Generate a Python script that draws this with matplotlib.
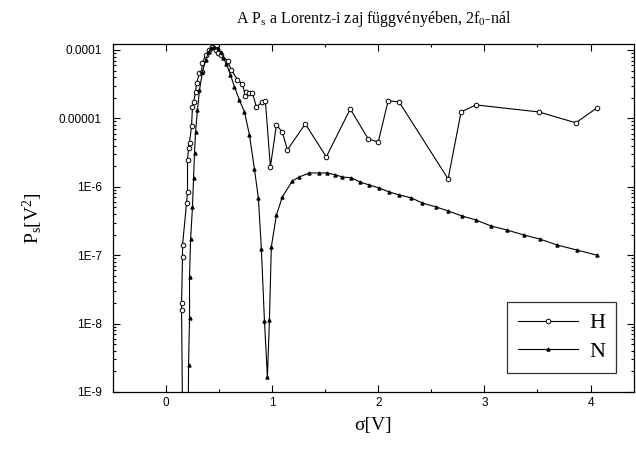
import matplotlib
matplotlib.use('Agg')
import matplotlib.pyplot as plt
from matplotlib.ticker import FixedLocator, LogLocator, NullFormatter, MultipleLocator
import numpy as np

plt.rcParams['mathtext.fontset'] = 'custom'
plt.rcParams['mathtext.rm'] = 'Liberation Serif'
plt.rcParams['mathtext.it'] = 'Liberation Serif:italic'

# H series (open circles)
h_x = [0.155, 0.146, 0.146, 0.155, 0.155, 0.193, 0.202, 0.202, 0.212, 0.221, 0.24,
       0.249, 0.259, 0.278, 0.287, 0.315, 0.334, 0.343, 0.372, 0.409, 0.437, 0.466,
       0.494, 0.522, 0.579, 0.616, 0.673, 0.72, 0.748, 0.757, 0.786, 0.814, 0.851,
       0.908, 0.936, 0.983, 1.04, 1.096, 1.143, 1.312, 1.51, 1.736, 1.905, 1.999,
       2.093, 2.196, 2.658, 2.78, 2.92, 3.513, 3.862, 4.06]
h_y = [5e-10, 1.6e-8, 2.0e-8, 9.4e-8, 1.4e-7, 5.8e-7, 8.4e-7, 2.5e-6, 3.7e-6, 4.4e-6, 7.8e-6,
       1.47e-5, 1.74e-5, 2.4e-5, 3.3e-5, 4.6e-5, 4.8e-5, 6.45e-5, 8.5e-5, 1.0e-4, 1.1e-4, 1.0e-4,
       9.0e-5, 8.5e-5, 6.9e-5, 5.1e-5, 3.65e-5, 3.2e-5, 2.1e-5, 2.4e-5, 2.35e-5, 2.35e-5, 1.47e-5,
       1.74e-5, 1.8e-5, 1.95e-6, 8.0e-6, 6.3e-6, 3.45e-6, 8.3e-6, 2.73e-6, 1.37e-5, 5.0e-6, 4.5e-6,
       1.8e-5, 1.74e-5, 1.3e-6, 1.24e-5, 1.57e-5, 1.24e-5, 8.6e-6, 1.42e-5]

# N series (filled triangles)
n_x = [0.209, 0.212, 0.221, 0.221, 0.231, 0.249, 0.259, 0.268, 0.278, 0.296, 0.315,
       0.343, 0.372, 0.40, 0.428, 0.456, 0.485, 0.513, 0.541, 0.569, 0.607, 0.644,
       0.691, 0.739, 0.786, 0.833, 0.87, 0.898, 0.927, 0.955, 0.974, 0.992, 1.04,
       1.096, 1.19, 1.256, 1.35, 1.444, 1.519, 1.594, 1.66, 1.745, 1.83, 1.915,
       2.008, 2.102, 2.196, 2.309, 2.413, 2.544, 2.657, 2.789, 2.92, 3.062, 3.213,
       3.373, 3.523, 3.683, 3.871, 4.06]
n_y = [5e-10, 2.5e-9, 1.2e-8, 4.8e-8, 1.7e-7, 5.1e-7, 1.35e-6, 3.1e-6, 6.3e-6, 1.33e-5, 2.6e-5,
       4.8e-5, 7.1e-5, 9.3e-5, 1.07e-4, 1.1e-4, 1.07e-4, 9.3e-5, 7.6e-5, 6.2e-5, 4.3e-5, 2.9e-5,
       1.85e-5, 1.24e-5, 5.7e-6, 1.8e-6, 6.8e-7, 1.25e-7, 1.1e-8, 1.66e-9, 1.13e-8, 1.32e-7, 3.87e-7,
       7.1e-7, 1.22e-6, 1.39e-6, 1.59e-6, 1.59e-6, 1.59e-6, 1.5e-6, 1.39e-6, 1.35e-6, 1.17e-6, 1.06e-6,
       9.6e-7, 8.4e-7, 7.6e-7, 6.9e-7, 5.8e-7, 5.07e-7, 4.43e-7, 3.74e-7, 3.27e-7, 2.67e-7, 2.33e-7,
       1.97e-7, 1.72e-7, 1.41e-7, 1.19e-7, 1.0e-7]

x_ticks = [0, 1, 2, 3, 4]
y_ticks = [1e-4, 1e-5, 1e-6, 1e-7, 1e-8, 1e-9]
y_tick_labels = ['0.0001', '0.00001', '1E-6', '1E-7', '1E-8', '1E-9']

fig = plt.figure(figsize=(6.36, 4.5), dpi=100)
ax = fig.add_axes([0.1777, 0.1289, 0.8192, 0.7733])

ax.plot(h_x, h_y, color='black', lw=0.8, marker='o', ms=3.3,
        mfc='white', mec='black', mew=0.7, label='H')
ax.plot(n_x, n_y, color='black', lw=0.8, marker='^', ms=2.2,
        mfc='black', mec='black', label='N')

ax.set_yscale('log')
ax.set_xlim(-0.5, 4.41)
ax.set_ylim(1e-9, 1.22e-4)

ax.xaxis.set_major_locator(FixedLocator(x_ticks))
ax.xaxis.set_minor_locator(MultipleLocator(0.5))
ax.set_xticklabels([str(t) for t in x_ticks], family='Liberation Sans', fontsize=8.5)
ax.yaxis.set_major_locator(FixedLocator(y_ticks))
ax.yaxis.set_minor_locator(LogLocator(base=10, subs=np.arange(2, 10)))
ax.yaxis.set_minor_formatter(NullFormatter())
ax.set_yticklabels(y_tick_labels, family='Liberation Sans', fontsize=8.5)

ax.tick_params(which='both', direction='in', top=True, right=True, width=0.8)
ax.tick_params(which='major', length=5)
ax.tick_params(which='minor', length=2.5)
ax.tick_params(axis='y', pad=8)
for sp in ax.spines.values():
    sp.set_linewidth(0.9)

ax.set_title('A P$_\\mathrm{s}$ a Lorentz-i zaj függvényében, 2f$_\\mathrm{0}$-nál',
             family='Liberation Serif', fontsize=11.5, pad=15)
ax.set_xlabel('σ[V]', family='Liberation Serif', fontsize=14, labelpad=6)
ax.set_ylabel('P$_\\mathrm{s}$[V$^\\mathrm{2}$]', family='Liberation Serif', fontsize=14, labelpad=10)

leg = ax.legend(loc='lower right', bbox_to_anchor=(0.9655, 0.055), borderaxespad=0,
                prop={'family': 'Liberation Serif', 'size': 16},
                frameon=True, fancybox=False, edgecolor='black', handlelength=2.7,
                handletextpad=0.5, borderpad=0.5, labelspacing=0.35)
leg.get_frame().set_linewidth(0.9)

fig.savefig('out.png', dpi=100)
